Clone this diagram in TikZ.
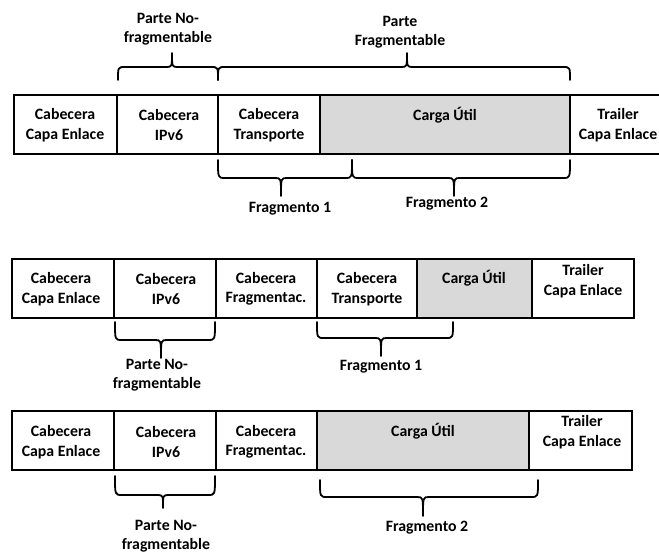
\documentclass[tikz,border=0pt]{standalone}
\usepackage{fontspec}
\setmainfont{Carlito}
\definecolor{payloadgray}{RGB}{217,217,217}
% horizontal curly brace: x-left, x-right, y of tips, y of bar, x of cusp, y of cusp
\newcommand{\drawbrace}[6]{%
  \draw[brace] (#1,#3) .. controls (#1,#4) .. (#1+7,#4) -- (#5-6,#4)
    .. controls (#5,#4) .. (#5,#6) .. controls (#5,#4) .. (#5+6,#4)
    -- (#2-7,#4) .. controls (#2,#4) .. (#2,#3);}
\begin{document}
\begin{tikzpicture}[x=1pt,y=-1pt,
  lbl/.style={font=\bfseries\fontsize{15.8}{19.5}\selectfont, align=center,
    inner sep=0pt},
  one/.style={lbl, anchor=base},
  frame/.style={line width=2.9pt},
  brace/.style={line width=1.8pt, line cap=round, line join=round}]
\useasboundingbox (0,0) rectangle (659,552);

% ---------- original packet ----------
\fill[payloadgray] (320,95) rectangle (570,154);
\draw[frame] (659,95) -- (14,95) -- (14,154) -- (659,154);
\foreach \x in {117,218,320,570} \draw[frame] (\x,95) -- (\x,154);
\node[lbl] (aLink) at (65,125) {Cabecera\\Capa Enlace};
\node[lbl] (aIp)   at (169,125) {Cabecera\\IPv6};
\node[lbl] (aTr)   at (269,125) {Cabecera\\Transporte};
\node[one] (aPay)  at (445,120) {Carga Útil};
\node[lbl] (aTrl)  at (618,125) {Trailer\\Capa Enlace};

\drawbrace{118}{218}{80}{67}{172}{53}
\node[lbl] (aUnf) at (168,29) {Parte No-\\fragmentable};
\drawbrace{218}{570}{80}{67}{407}{53}
\node[lbl] (aFrg) at (400,32) {Parte\\Fragmentable};

\drawbrace{218}{352}{160}{178}{281}{196}
\node[one] (aF1) at (290,212.5) {Fragmento 1};
\drawbrace{352}{570}{160}{178}{454}{196}
\node[one] (aF2) at (447,207.5) {Fragmento 2};

% ---------- first fragment ----------
\fill[payloadgray] (417,259) rectangle (532,318);
\draw[frame] (12,259) rectangle (634,318);
\foreach \x in {114,216,317,417,532} \draw[frame] (\x,259) -- (\x,318);
\node[lbl] (bLink) at (61,289) {Cabecera\\Capa Enlace};
\node[lbl] (bIp)   at (166,289) {Cabecera\\IPv6};
\node[lbl] (bFh)   at (266,289) {Cabecera\\Fragmentac.};
\node[lbl] (bTr)   at (367,289) {Cabecera\\Transporte};
\node[one] (bPay)  at (474,283.5) {Carga Útil};
\node[lbl] (bTrl)  at (583,281) {Trailer\\Capa Enlace};

\drawbrace{115}{215}{322}{340}{161}{358}
\node[lbl] (bUnf) at (157,375) {Parte No-\\fragmentable};
\drawbrace{317}{453}{322}{338}{381}{356}
\node[one] (bF1) at (381,370.5) {Fragmento 1};

% ---------- second fragment ----------
\fill[payloadgray] (317,411) rectangle (529,470);
\draw[frame] (12,411) rectangle (632,470);
\foreach \x in {114,216,317,529} \draw[frame] (\x,411) -- (\x,470);
\node[lbl] (cLink) at (61,442) {Cabecera\\Capa Enlace};
\node[lbl] (cIp)   at (166,442) {Cabecera\\IPv6};
\node[lbl] (cFh)   at (266,442) {Cabecera\\Fragmentac.};
\node[one] (cPay)  at (423,436.5) {Carga Útil};
\node[lbl] (cTrl)  at (582,432) {Trailer\\Capa Enlace};

\drawbrace{115}{215}{476}{495}{163}{508}
\node[lbl] (cUnf) at (166,536) {Parte No-\\fragmentable};
\drawbrace{320}{538}{480}{497}{423}{516}
\node[one] (cF2) at (427,531.5) {Fragmento 2};
\end{tikzpicture}
\end{document}
